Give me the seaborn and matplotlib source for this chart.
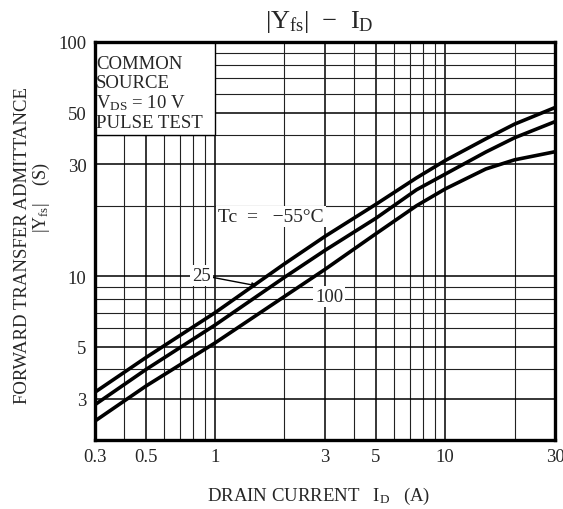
import numpy as np
import pandas as pd
import matplotlib
matplotlib.use('Agg')  # no display
from matplotlib import pyplot as plt
from matplotlib.patches import Rectangle
from matplotlib.ticker import FixedLocator, NullFormatter
import seaborn as sns

# values
drain_current = [0.3, 0.5, 1, 2, 3, 5, 7.5, 10, 15, 20, 30]
yfs_m55 = [3.2, 4.5, 7.0, 11.3, 14.8, 20.3, 26.3, 31.2, 38.6, 44.6, 52.5]
yfs_25 = [2.83, 4.0, 6.2, 9.9, 12.9, 17.7, 23.4, 27.3, 33.9, 39.0, 45.7]
yfs_100 = [2.41, 3.4, 5.2, 8.2, 10.7, 15.2, 20.0, 23.6, 28.7, 31.4, 34.0]
temps = ["-55", "25", "100"]

x_ticks = [0.3, 0.5, 1, 3, 5, 10, 30]
x_tick_labels = ["0.3", "0.5", "1", "3", "5", "10", "30"]
y_ticks = [3, 5, 10, 30, 50, 100]
y_tick_labels = ["3", "5", "10", "30", "50", "100"]

df = pd.concat([
    pd.DataFrame({"ID": drain_current, "Yfs": vals, "Tc": t})
    for t, vals in zip(temps, [yfs_m55, yfs_25, yfs_100])
])

sns.set_style("white")
plt.rcParams['font.family'] = ['Liberation Serif', 'DejaVu Serif']
plt.rcParams['mathtext.fontset'] = 'custom'
plt.rcParams['mathtext.rm'] = 'Liberation Serif'
plt.rcParams['mathtext.it'] = 'Liberation Serif:italic'

fig = plt.figure(figsize=(5.63, 5.10), dpi=100)
ax = fig.add_axes([0.1687, 0.1353, 0.8171, 0.7804])

sns.lineplot(data=df, x="ID", y="Yfs", hue="Tc", palette=["black"] * 3,
             linewidth=2.6, legend=False, ax=ax, zorder=3)

ax.set_xscale("log")
ax.set_yscale("log")
ax.set_xlim(0.3, 30)
ax.set_ylim(2, 100)

ax.xaxis.set_major_locator(FixedLocator(x_ticks))
ax.set_xticklabels(x_tick_labels)
ax.xaxis.set_minor_locator(FixedLocator([0.4, 0.6, 0.7, 0.8, 0.9, 2, 4, 6, 7, 8, 9, 20]))
ax.xaxis.set_minor_formatter(NullFormatter())
ax.yaxis.set_major_locator(FixedLocator(y_ticks))
ax.set_yticklabels(y_tick_labels)
ax.yaxis.set_minor_locator(FixedLocator([4, 6, 7, 8, 9, 20, 40, 60, 70, 80, 90]))
ax.yaxis.set_minor_formatter(NullFormatter())
ax.tick_params(which="both", length=0, labelsize=13.5, pad=6)

ax.set_axisbelow(True)
ax.grid(which="major", color="black", linewidth=1.1)
ax.grid(which="minor", color="#222222", linewidth=0.8)
for s in ax.spines.values():
    s.set_color("black")
    s.set_linewidth(2.4)
ax.set_xlabel("")
ax.set_ylabel("")

# condition box in the upper left
ax.add_patch(Rectangle((0.3, 40), 0.7, 60, facecolor="white", edgecolor="black",
                       linewidth=1.0, zorder=1.5))
ax.text(0.303, 88, "COMMON\nSOURCE\nV$_{\\rm DS}$ = 10 V\nPULSE TEST", fontsize=13.5,
        va="top", ha="left", linespacing=1.12, zorder=4)

box = dict(facecolor="white", edgecolor="none", pad=1.5)
ax.text(1.03, 18, "Tc  =   −55°C", fontsize=14, va="center", ha="left", bbox=box, zorder=4)
ax.annotate("25", xy=(1.52, 9.1), xytext=(0.87, 10.1), fontsize=13.5, va="center", ha="center",
            bbox=box, zorder=4,
            arrowprops=dict(arrowstyle="-|>", color="black", lw=1.0, mutation_scale=7,
                            shrinkA=0, shrinkB=0))
ax.text(3.13, 8.2, "100", fontsize=13.5, va="center", ha="center", bbox=box, zorder=4)

fig.text(0.568, 0.957, "|Y$_{\\rm fs}$|  −  I$_{\\rm D}$", fontsize=19, ha="center", va="center")
fig.text(23 / 563, 1 - 245 / 510, "FORWARD TRANSFER ADMITTANCE", fontsize=13.5,
         rotation=90, ha="center", va="center")
fig.text(41 / 563, 1 - 197 / 510, "|Y$_{\\rm fs}$|    (S)", fontsize=13,
         rotation=90, ha="center", va="center")
fig.text(319 / 563, 1 - 496 / 510, "DRAIN CURRENT   I$_{\\rm D}$   (A)", fontsize=13.5,
         ha="center", va="center")

fig.savefig("out.png", dpi=100)
